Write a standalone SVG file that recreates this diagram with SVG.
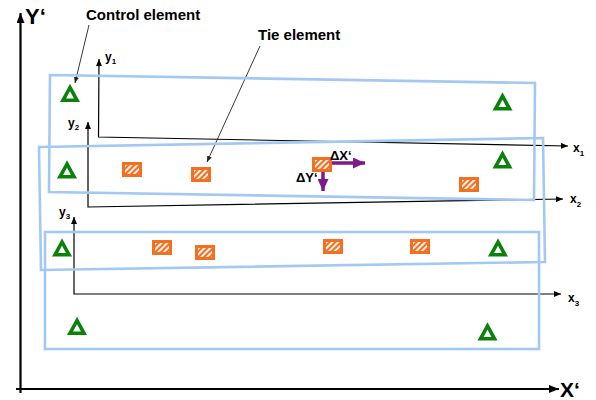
<svg xmlns="http://www.w3.org/2000/svg" width="596" height="400" viewBox="0 0 596 400">
<style>
  .frame{fill:none;stroke:#a3c9f3;stroke-width:2.6}
  .ctrl{fill:none;stroke:#0a820a;stroke-width:3.6;stroke-linejoin:miter}
  .ax{fill:none;stroke:#000;stroke-width:1.2}
  .big{fill:none;stroke:#000;stroke-width:2.2}
  .lead{fill:none;stroke:#222;stroke-width:0.9}
  .dp{fill:none;stroke:#7f1a8a;stroke-width:3.5}
  .t{font-family:"Liberation Sans",Arial,sans-serif;font-weight:bold;fill:#000}
  .sub{font-size:8px}
</style>
<defs>
  <pattern id="hatch" width="4" height="4" patternUnits="userSpaceOnUse" patternTransform="rotate(45)">
    <rect width="1.8" height="4" fill="#fff"/>
  </pattern>
  <g id="tie">
    <rect x="0" y="0" width="20" height="15" fill="#f37021"/>
    <rect x="3" y="3" width="14" height="9" fill="url(#hatch)"/>
  </g>
  <path id="tri" d="M0,-6.5 L-7,6.3 L7,6.3 Z"/>
  <marker id="ab" markerUnits="userSpaceOnUse" markerWidth="10" markerHeight="8" refX="10" refY="4" orient="auto-start-reverse">
    <path d="M0,0 L10,4 L0,8 Z" fill="#000"/>
  </marker>
  <marker id="as" markerUnits="userSpaceOnUse" markerWidth="7" markerHeight="6" refX="7" refY="3" orient="auto-start-reverse">
    <path d="M0,0 L7,3 L0,6 Z" fill="#000"/>
  </marker>
  <marker id="al" markerUnits="userSpaceOnUse" markerWidth="6" markerHeight="5" refX="6" refY="2.5" orient="auto">
    <path d="M0,0 L6,2.5 L0,5 Z" fill="#222"/>
  </marker>
  <marker id="ap" markerUnits="userSpaceOnUse" markerWidth="12" markerHeight="11" refX="12" refY="5.5" orient="auto">
    <path d="M0,0 L12,5.5 L0,11 Z" fill="#7f1a8a"/>
  </marker>
</defs>

<g id="connectors">
  <line class="big" x1="20.5" y1="393" x2="20.5" y2="13" marker-end="url(#ab)"/>
  <line class="big" x1="16" y1="389" x2="559" y2="389" marker-end="url(#ab)"/>
  <polyline class="ax" points="99,59 98.5,137 568,146" marker-start="url(#as)" marker-end="url(#as)" id="frame1"/>
  <polyline class="ax" points="88,122 88,207 563,199" marker-start="url(#as)" marker-end="url(#as)" id="frame2"/>
  <polyline class="ax" points="74,217 74,294 561,294" marker-start="url(#as)" marker-end="url(#as)" id="frame3"/>
  <line class="lead" x1="89" y1="25" x2="75" y2="83" marker-end="url(#al)"/>
  <line class="lead" x1="260" y1="46" x2="207" y2="162" marker-end="url(#al)"/>
  <line class="dp" x1="321" y1="163" x2="365" y2="163" marker-end="url(#ap)"/>
  <line class="dp" x1="323" y1="161.5" x2="323" y2="191" marker-end="url(#ap)"/>
</g>

<g id="strip1"><polygon class="frame" points="50,75 535,83 534,200 49,192"/></g>
<g id="strip2"><polygon class="frame" points="39,147 543,138 545,262 41,270"/></g>
<g id="strip3"><rect class="frame" x="45" y="232" width="494" height="117"/></g>

<g id="control1"><use href="#tri" class="ctrl" transform="translate(70,94)"/></g>
<g id="control2"><use href="#tri" class="ctrl" transform="translate(502.5,102.5)"/></g>
<g id="control3"><use href="#tri" class="ctrl" transform="translate(67,170.5)"/></g>
<g id="control4"><use href="#tri" class="ctrl" transform="translate(502.5,160.5)"/></g>
<g id="control5"><use href="#tri" class="ctrl" transform="translate(62,248.5)"/></g>
<g id="control6"><use href="#tri" class="ctrl" transform="translate(498,248.5)"/></g>
<g id="control7"><use href="#tri" class="ctrl" transform="translate(77,327)"/></g>
<g id="control8"><use href="#tri" class="ctrl" transform="translate(487.5,332.5)"/></g>

<g id="tie1"><use href="#tie" x="122" y="162"/></g>
<g id="tie2"><use href="#tie" x="191" y="167"/></g>
<g id="tie3"><use href="#tie" x="312" y="157"/></g>
<g id="tie4"><use href="#tie" x="459" y="177"/></g>
<g id="tie5"><use href="#tie" x="152" y="240"/></g>
<g id="tie6"><use href="#tie" x="195" y="245"/></g>
<g id="tie7"><use href="#tie" x="323" y="239"/></g>
<g id="tie8"><use href="#tie" x="410" y="239"/></g>

<g id="labels">
  <text class="t" x="25" y="24" font-size="22">Y‘</text>
  <text class="t" x="560" y="397" font-size="21">X‘</text>
  <text class="t" x="86" y="20" font-size="15">Control element</text>
  <text class="t" x="258" y="40" font-size="15">Tie element</text>
  <text class="t" x="105" y="61" font-size="12">y<tspan class="sub" dy="3">1</tspan></text>
  <text class="t" x="68" y="127" font-size="12">y<tspan class="sub" dy="3">2</tspan></text>
  <text class="t" x="59" y="216" font-size="12">y<tspan class="sub" dy="3">3</tspan></text>
  <text class="t" x="573" y="152" font-size="12">x<tspan class="sub" dy="4">1</tspan></text>
  <text class="t" x="570" y="203" font-size="12">x<tspan class="sub" dy="4">2</tspan></text>
  <text class="t" x="568" y="302" font-size="12">x<tspan class="sub" dy="4">3</tspan></text>
  <text class="t" x="330" y="160" font-size="13">ΔX‘</text>
  <text class="t" x="296" y="182" font-size="13">ΔY‘</text>
</g>
</svg>
